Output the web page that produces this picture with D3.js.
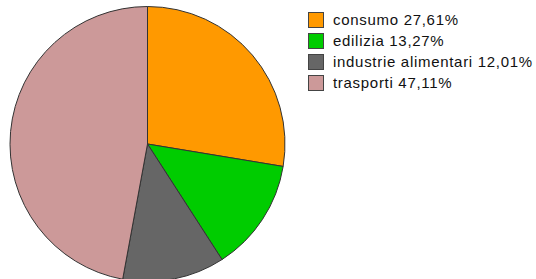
<!DOCTYPE html>
<html>
<head>
<meta charset="utf-8">
<script src="https://cdn.jsdelivr.net/npm/d3@7"></script>
<style>
  body { margin: 0; background: #fff; }
  text { font-family: "Liberation Sans", Arial, sans-serif; }
</style>
</head>
<body>
<svg id="chart"></svg>
<script>
const width = 536;
const height = 279;

const categories = ["consumo", "edilizia", "industrie alimentari", "trasporti"];
const values = [27.61, 13.27, 12.01, 47.11];
const labels = ["27,61%", "13,27%", "12,01%", "47,11%"];
const colors = ["#ff9900", "#00cc00", "#666666", "#cc9999"];

const data = categories.map((c, i) => ({ name: c, value: values[i], label: labels[i], color: colors[i] }));

const svg = d3.select("#chart")
  .attr("width", width)
  .attr("height", height);

const cx = 147.5;
const cy = 144;
const radius = 137.5;

const pie = d3.pie().sort(null).value(d => d.value);
const arc = d3.arc().innerRadius(0).outerRadius(radius);

svg.append("g")
  .attr("transform", `translate(${cx}, ${cy})`)
  .selectAll("path")
  .data(pie(data))
  .enter()
  .append("path")
  .attr("d", arc)
  .attr("fill", d => d.data.color)
  .attr("stroke", "#333")
  .attr("stroke-width", 1);

const legend = svg.append("g")
  .attr("transform", "translate(308, 12)");

const rowH = 21;

legend.selectAll("rect")
  .data(data)
  .enter()
  .append("rect")
  .attr("x", 0.5)
  .attr("y", (d, i) => i * rowH + 0.5)
  .attr("width", 15)
  .attr("height", 15)
  .attr("fill", d => d.color)
  .attr("stroke", "#444");

legend.selectAll("text")
  .data(data)
  .enter()
  .append("text")
  .attr("x", 25)
  .attr("y", (d, i) => i * rowH + 13)
  .attr("font-size", 15)
  .attr("letter-spacing", 0.7)
  .attr("fill", "#111")
  .text(d => `${d.name} ${d.label}`);
</script>
</body>
</html>
